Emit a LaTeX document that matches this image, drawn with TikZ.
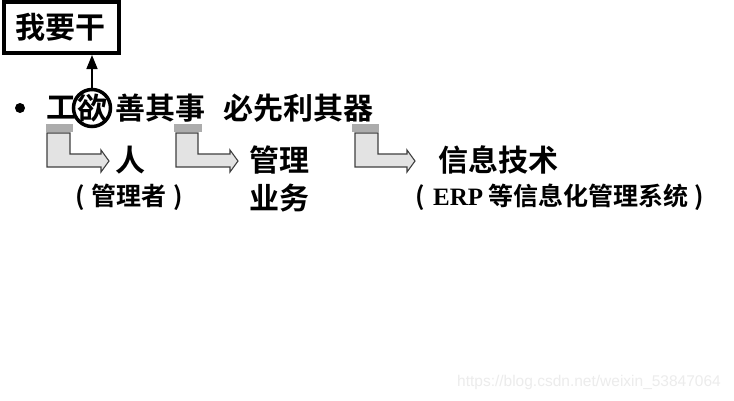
\documentclass[tikz,border=0pt]{standalone}
\usepackage{fontspec}
\setmainfont{Liberation Serif}
\newfontfamily\cjk{Noto Sans CJK SC}[BoldFont={* Bold}]
\newfontfamily\wm{Liberation Sans}
\usetikzlibrary{arrows.meta}
\tikzset{
  big/.style={inner sep=0pt, font=\cjk\bfseries\fontsize{30}{32}\selectfont},
  small/.style={inner sep=0pt, font=\cjk\bfseries\fontsize{25}{28}\selectfont},
  bar/.style={fill=gray!65, draw=none},
  bent/.style={fill=gray!22, draw=black!75, line width=1.1pt, line join=miter},
}
\newcommand\bentarrow[3]{% left x, right x of upright, tip x
  \draw[bent] (#1,133) -- (#2,133) -- (#2,154) -- ({#3-8},154) -- ({#3-8},150) -- (#3,161)
    -- ({#3-8},172) -- ({#3-8},167) -- (#1,167) -- cycle;}
\begin{document}
\begin{tikzpicture}[x=1pt,y=-1pt]
\useasboundingbox[fill=white] (0,0) rectangle (734,400);
% top box
\node[big, draw, line width=4pt, minimum width=115pt, minimum height=51pt] (box) at (61,27.5) {我要干};
% bullet
\fill (20,108) circle (5pt);
% first line
\node[big] (gong) at (61,108) {工};
\node[big] (yu) at (92,108) {欲};
\draw[line width=3.5pt] (yu) circle (18.5pt);
\coordinate (yutop) at (92,88);
\draw[line width=1.5pt, -{Triangle[length=14pt,width=11pt]}] (yutop) -- (box.south -| yutop);
\node[big, anchor=west] (shan) at (115,108) {善其事};
\node[big, anchor=west] (bi) at (223,108) {必先利其器};
% bars
\fill[bar] (46,124) rectangle (73,132);
\fill[bar] (174,124) rectangle (202,132);
\fill[bar] (352,124) rectangle (379,132);
% bent arrows
\bentarrow{47}{70}{109}
\bentarrow{176}{198}{238}
\bentarrow{355}{378}{415}
% labels
\node[big] (ren) at (130,160) {人};
\node[small] (glz) at (129,197) {(\hspace{7pt}管理者\hspace{7pt})};
\node[big] (gl) at (279,160) {管理};
\node[big] (yw) at (279,198) {业务};
\node[big] (xx) at (498,160) {信息技术};
\node[small] (erp) at (560,197) {(\hspace{8pt}{\fontspec{Liberation Serif}\bfseries ERP} 等信息化管理系统\hspace{6pt})};
% watermark
\node[inner sep=0pt, text=gray!15, font=\wm\fontsize{15.5}{17}\selectfont] (wmk) at (589,382) {https://blog.csdn.net/weixin\_53847064};
\end{tikzpicture}
\end{document}
